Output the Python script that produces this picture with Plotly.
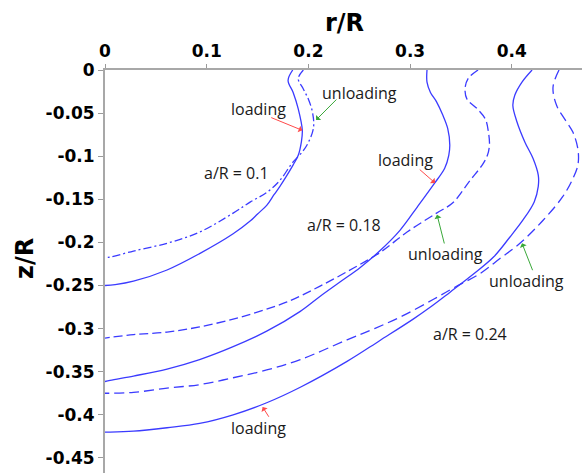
import plotly.graph_objects as go

# ---- data (r/R, z/R) ----
r_01_load = [0.1846, 0.180, 0.185, 0.190, 0.194, 0.193, 0.190, 0.185, 0.179, 0.172, 0.166, 0.159, 0.150, 0.143, 0.126, 0.093, 0.061, 0.028, 0.010, 0.0]
z_01_load = [0.0, -0.012, -0.026, -0.045, -0.070, -0.084, -0.099, -0.110, -0.122, -0.135, -0.145, -0.157, -0.167, -0.175, -0.190, -0.213, -0.232, -0.245, -0.249, -0.250]

r_01_unload = [0.195, 0.190, 0.195, 0.200, 0.204, 0.205, 0.200, 0.194, 0.184, 0.172, 0.159, 0.143, 0.126, 0.093, 0.061, 0.028, 0.005, 0.0]
z_01_unload = [0.0, -0.010, -0.022, -0.034, -0.049, -0.067, -0.084, -0.095, -0.108, -0.128, -0.142, -0.153, -0.166, -0.188, -0.201, -0.210, -0.217, -0.2175]

r_018_load = [0.3166, 0.3166, 0.320, 0.326, 0.332, 0.337, 0.339, 0.338, 0.334, 0.323, 0.307, 0.290, 0.270, 0.251, 0.231, 0.211, 0.192, 0.159, 0.126, 0.093, 0.061, 0.028, 0.005, 0.0]
z_018_load = [0.0, -0.014, -0.026, -0.037, -0.052, -0.068, -0.087, -0.099, -0.114, -0.133, -0.159, -0.186, -0.210, -0.229, -0.246, -0.263, -0.280, -0.303, -0.321, -0.336, -0.347, -0.355, -0.360, -0.3614]

r_018_unload = [0.3668, 0.357, 0.354, 0.356, 0.366, 0.374, 0.377, 0.378, 0.376, 0.371, 0.359, 0.342, 0.326, 0.297, 0.270, 0.244, 0.211, 0.179, 0.152, 0.126, 0.093, 0.061, 0.028, 0.0]
z_018_unload = [0.0, -0.010, -0.022, -0.034, -0.045, -0.057, -0.072, -0.087, -0.099, -0.110, -0.128, -0.154, -0.166, -0.188, -0.212, -0.230, -0.251, -0.269, -0.280, -0.289, -0.298, -0.304, -0.307, -0.311]

r_024_load = [0.4199, 0.410, 0.403, 0.401, 0.405, 0.413, 0.421, 0.426, 0.426, 0.422, 0.411, 0.398, 0.382, 0.362, 0.339, 0.320, 0.303, 0.270, 0.238, 0.192, 0.159, 0.126, 0.093, 0.061, 0.028, 0.005, 0.0]
z_024_load = [0.0, -0.014, -0.029, -0.041, -0.060, -0.084, -0.103, -0.122, -0.135, -0.153, -0.174, -0.194, -0.217, -0.237, -0.258, -0.275, -0.289, -0.314, -0.338, -0.368, -0.386, -0.400, -0.410, -0.415, -0.419, -0.420, -0.420]

r_024_unload = [0.4464, 0.4405, 0.444, 0.452, 0.460, 0.465, 0.465, 0.460, 0.450, 0.431, 0.408, 0.388, 0.369, 0.344, 0.323, 0.293, 0.265, 0.238, 0.192, 0.159, 0.126, 0.093, 0.061, 0.028, 0.0]
z_024_unload = [0.0, -0.020, -0.041, -0.057, -0.072, -0.092, -0.110, -0.126, -0.147, -0.174, -0.201, -0.219, -0.236, -0.252, -0.266, -0.285, -0.300, -0.313, -0.336, -0.348, -0.357, -0.365, -0.369, -0.374, -0.375]

x_tickvals = [0, 0.1, 0.2, 0.3, 0.4]
x_ticktext = ["0", "0.1", "0.2", "0.3", "0.4"]
y_tickvals = [0, -0.05, -0.1, -0.15, -0.2, -0.25, -0.3, -0.35, -0.4, -0.45]
y_ticktext = ["0", "-0.05", "-0.1", "-0.15", "-0.2", "-0.25", "-0.3", "-0.35", "-0.4", "-0.45"]

BLUE = "#3b3bff"
RED = "#ff4a4a"
GREEN = "#3aa83a"

fig = go.Figure()

curves = [
    (r_01_load, z_01_load, "solid"),
    (r_01_unload, z_01_unload, "8px,3px,2px,3px"),
    (r_018_load, z_018_load, "solid"),
    (r_018_unload, z_018_unload, "9px,4px"),
    (r_024_load, z_024_load, "solid"),
    (r_024_unload, z_024_unload, "10px,5px"),
]
for r, z, dash in curves:
    fig.add_trace(go.Scatter(
        x=r, y=z, mode="lines",
        line=dict(color=BLUE, width=1.3, dash=dash, shape="spline", smoothing=1.0),
        showlegend=False, hoverinfo="skip",
    ))

label_font = dict(family="Open Sans", size=16, color="#1a1a1a")
labels = [
    ("loading", 0.151, -0.045),
    ("unloading", 0.250, -0.027),
    ("a/R = 0.1", 0.129, -0.119),
    ("loading", 0.295, -0.104),
    ("a/R = 0.18", 0.235, -0.180),
    ("unloading", 0.335, -0.213),
    ("unloading", 0.414, -0.245),
    ("a/R = 0.24", 0.359, -0.306),
    ("loading", 0.151, -0.415),
]
annotations = []
for text, x, y in labels:
    annotations.append(dict(text=text, x=x, y=y, xref="x", yref="y",
                            showarrow=False, font=label_font,
                            xanchor="center", yanchor="middle"))

arrows = [
    (RED, 0.162, -0.0545, 0.194, -0.070),
    (GREEN, 0.229, -0.0325, 0.2075, -0.058),
    (RED, 0.308, -0.114, 0.3245, -0.131),
    (GREEN, 0.334, -0.203, 0.3265, -0.168),
    (GREEN, 0.421, -0.234, 0.410, -0.201),
    (RED, 0.162, -0.404, 0.155, -0.391),
]
for color, x0, y0, x1, y1 in arrows:
    annotations.append(dict(text="", x=x1, y=y1, ax=x0, ay=y0,
                            xref="x", yref="y", axref="x", ayref="y",
                            showarrow=True, arrowhead=1, arrowsize=1.2,
                            arrowwidth=1, arrowcolor=color))

title_font = dict(family="DejaVu Sans", size=24, color="black", weight="bold")
annotations.append(dict(text="r/R", x=0.503, y=1.1166, xref="paper", yref="paper",
                        showarrow=False, font=title_font,
                        xanchor="center", yanchor="middle"))
annotations.append(dict(text="z/R", x=-0.1677, y=0.531, xref="paper", yref="paper",
                        showarrow=False, font=title_font, textangle=-90,
                        xanchor="center", yanchor="middle"))

tick_font = dict(family="DejaVu Sans", size=17, color="black", weight="bold")

fig.update_layout(
    width=582, height=473,
    margin=dict(l=105, r=0, t=70, b=0),
    paper_bgcolor="white", plot_bgcolor="white",
    annotations=annotations,
    xaxis=dict(
        side="top", range=[0, 0.469],
        tickvals=x_tickvals, ticktext=x_ticktext,
        ticks="outside", ticklen=4, tickcolor="#9a9a9a", tickwidth=1,
        showline=True, linecolor="#a8a8a8", linewidth=2,
        showgrid=False, zeroline=False, tickfont=tick_font,
    ),
    yaxis=dict(
        range=[-0.4675, 0],
        tickvals=y_tickvals, ticktext=y_ticktext,
        ticks="outside", ticklen=5, tickcolor="#9a9a9a", tickwidth=1,
        showline=True, linecolor="#a8a8a8", linewidth=2,
        showgrid=False, zeroline=False, tickfont=tick_font,
    ),
)

fig.write_html("out.html")
